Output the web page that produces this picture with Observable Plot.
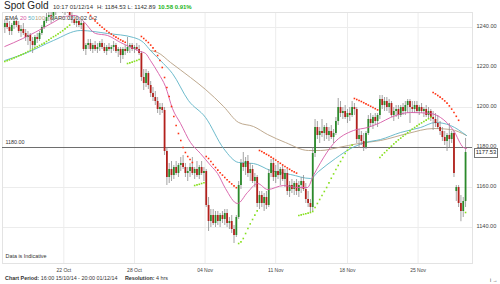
<!DOCTYPE html>
<html><head><meta charset="utf-8">
<script src="https://cdn.jsdelivr.net/npm/d3@7"></script>
<script src="https://cdn.jsdelivr.net/npm/@observablehq/plot@0.6"></script>
<style>
body{margin:0;background:#fff;font-family:"Liberation Sans",Arial,sans-serif;}
#wrap{position:relative;width:500px;height:284px;overflow:hidden;}
#wrap svg{position:absolute;left:0;top:0;}
.ov{position:absolute;white-space:nowrap;color:#222;}
</style></head><body>
<div id="wrap"></div>
<script>
// OHLC (4 hour bars, 15/10/14 16:00 - 01/12/14 20:00)
const O = [1240,1242,1240,1238,1241,1243,1241,1238,1239,1237,1235,1236,1233,1231,1235,1234,1237,1240,1243,1245,1246,1244,1248,1250,1251,1252,1249,1250,1248,1246,1244,1242,1243,1241,1242,1229,1231,1232,1229,1231,1229,1230,1232,1230,1228,1230,1229,1230,1231,1228,1229,1226,1229,1228,1230,1231,1229,1230,1229,1227,1215,1212,1217,1211,1207,1205,1203,1199,1200,1198.5,1178,1165,1169,1166,1170,1167,1171,1172,1170,1167,1168,1170,1167,1169,1166,1170,1167,1168,1151,1143,1146,1142,1146,1143,1146,1144,1147,1142,1143,1139,1136,1145,1161,1172,1170,1173,1167,1169,1163,1165,1152,1156,1152,1155,1151,1167,1172,1165,1168,1166,1169,1164,1167,1158,1161,1159,1162,1158,1161,1163,1159,1154,1152,1150,1177,1190,1186,1188,1187,1190,1186,1188,1185,1187,1193,1200,1197,1198,1195,1197,1196,1200,1199,1184,1186,1183,1180,1187,1194,1192,1195,1193,1196,1204,1201,1203,1200,1202,1196,1198,1199,1196,1200,1198,1201,1203,1200,1199,1201,1198,1200,1198,1199,1196,1198,1195,1194,1192,1190,1188,1185,1183,1186,1184,1187,1158,1160,1152,1148,1153];
const H = [1244,1245,1243,1242,1245,1246,1243,1241,1242,1239,1238,1237,1235,1236,1237,1238,1241,1244,1247,1248,1248,1250,1252,1254,1255,1254,1252,1253,1250,1248,1246,1245,1245,1244,1243,1232,1234,1234,1232,1233,1232,1233,1234,1232,1231,1232,1231,1233,1232,1230,1230,1230,1231,1235,1232,1232,1231,1232,1231,1228,1219,1219,1218,1213,1210,1208,1205,1202,1202,1200,1180,1172,1173,1171,1173,1172,1175,1176,1172,1170,1172,1175,1170,1173,1171,1173,1170,1169,1155,1149,1149,1148,1148,1147,1148,1149,1149,1145,1146,1141,1146,1163,1174,1177.5,1175,1176,1172,1171,1167,1166,1158,1158,1157,1158,1169,1174,1174,1171,1172,1170,1171,1169,1169,1163,1164,1163,1164,1163,1165,1166,1162,1158,1154,1180,1194,1193,1190,1194,1191,1192,1190,1191,1189,1195,1204.5,1203,1200,1201,1199,1200,1203,1202,1200,1189,1188,1187,1188,1196,1197,1196,1197,1197,1206,1206,1205,1205,1204,1203,1200,1201,1201,1201,1202,1203,1204,1204,1203,1203,1203,1201,1202,1200,1201,1200,1199,1198,1197,1196,1193,1190,1188,1187,1192,1188,1188,1161,1161,1156,1155,1184.53];
const L = [1237,1239,1236,1236,1239,1240,1237,1235,1236,1233,1231,1229,1227,1230,1232,1233,1236,1239,1242,1243,1242,1243,1246,1248,1249,1247,1246,1247,1244,1242,1241,1240,1240,1239,1228,1226,1229,1228,1227,1228,1227,1228,1229,1227,1226,1228,1227,1228,1227,1225,1222,1224,1226,1227,1227,1228,1227,1228,1226,1213,1208.5,1210,1209,1205,1203,1201,1197,1196,1197,1176,1161,1162,1163,1164,1166,1165,1168,1169,1165,1163,1165,1166,1164,1165,1164,1166,1163,1150,1138,1140,1141,1140,1141,1140,1142,1141,1140,1139,1137,1132,1135,1144,1159,1168,1166,1165,1163,1162,1160,1150,1149,1150,1148,1149,1150,1165,1163,1162,1164,1161,1163,1160,1156,1155,1157,1156,1156,1155,1157,1158,1152,1150,1147.5,1148,1175,1184,1182,1185,1183,1184,1183,1184,1182,1186,1191,1195,1194,1194,1192,1193,1195,1196,1182,1179.5,1181,1178,1179,1186,1190,1189,1191,1190,1194,1199,1198,1198,1197,1195,1193,1195,1194,1195,1196,1196,1197,1192,1197,1197,1197,1196,1197,1195,1195,1194,1193,1188.5,1190,1189,1186,1183,1181,1178,1180,1182,1165,1153,1150,1142.89,1145,1150];
const C = [1242,1240,1238,1241,1243,1241,1238,1239,1237,1235,1236,1233,1231,1235,1234,1237,1240,1243,1245,1246,1244,1248,1250,1251,1252,1249,1250,1248,1246,1244,1242,1243,1241,1242,1229,1231,1232,1229,1231,1229,1230,1232,1230,1228,1230,1229,1230,1231,1228,1229,1226,1229,1228,1230,1231,1229,1230,1229,1227,1215,1212,1217,1211,1207,1205,1203,1199,1200,1198.5,1178,1165,1169,1166,1170,1167,1171,1172,1170,1167,1168,1170,1167,1169,1166,1170,1167,1168,1151,1143,1146,1142,1146,1143,1146,1144,1147,1142,1143,1139,1136,1145,1161,1172,1170,1173,1167,1169,1163,1165,1152,1156,1152,1155,1151,1167,1172,1165,1168,1166,1169,1164,1167,1158,1161,1159,1162,1158,1161,1163,1159,1154,1152,1150,1177,1190,1186,1188,1187,1190,1186,1188,1185,1187,1193,1200,1197,1198,1195,1197,1196,1200,1199,1184,1186,1183,1180,1187,1194,1192,1195,1193,1196,1204,1201,1203,1200,1202,1196,1198,1199,1196,1200,1198,1201,1203,1200,1199,1201,1198,1200,1198,1199,1196,1198,1195,1194,1192,1190,1188,1185,1183,1186,1184,1187,1167,1160,1152,1148,1153,1177.53];

// EMA curves: [bar index, value]
const ema20 = [[0,1230.5],[7.6,1234.4],[13.3,1237.7],[19.7,1241.8],[26.2,1245.5],[30.5,1246],[33.6,1243.5],[39.2,1237],[44.4,1236],[50,1232.5],[55.6,1229.5],[58.6,1228],[60.8,1227],[62.9,1223.5],[66.4,1217],[69.4,1210.5],[72.4,1199.5],[75.9,1192],[80.2,1182.5],[84.5,1177],[88.9,1171],[91.9,1167],[95.3,1159.5],[100.5,1152],[104.8,1157.5],[109.2,1162],[113.5,1159],[120.4,1161],[126.4,1160],[130.7,1160],[133.3,1166],[136.4,1172.5],[142,1182],[150.6,1188.5],[156.7,1190],[162.3,1192.5],[166.6,1195],[175.2,1197.5],[183.9,1197],[188.2,1195],[193.8,1188.5],[198.1,1180],[199.4,1179.5]];
const ema50 = [[0,1223.5],[9.8,1227.5],[21,1233.5],[32.7,1238.5],[44.4,1237],[55.6,1235],[59.9,1232.5],[62.9,1228.5],[68.5,1222],[72.4,1217],[79.3,1203.5],[86.7,1195],[94.5,1179.5],[101,1172.5],[107.4,1172],[114.8,1168.5],[123.4,1166.5],[132,1164.5],[135.5,1168],[142.8,1174.5],[150.2,1180],[155.8,1182.5],[162.3,1184],[170.9,1187.5],[179.6,1190],[186,1192.5],[192.5,1191],[199.4,1186]];
const ema100 = [[62.9,1228.5],[66,1227.5],[71.6,1222.5],[80.2,1215],[86.7,1209],[94.5,1200.5],[101,1192.5],[107.4,1190.5],[113.5,1186.5],[121.2,1182.5],[131.2,1178.5],[136.4,1178.5],[144.1,1180],[152.8,1182],[162.3,1183.5],[174,1187],[185.2,1189.5],[192.5,1189],[199.4,1186]];

// Parabolic SAR segments: first bar index, side, values
const sarStart = [0,35,53,59,82,87,101,110,127,151,162,185,199];
const sarSide  = ["below","above","below","above","below","above","below","above","below","above","below","above","below"];
const sarVals  = [
 [1223,1223.4,1223.8,1224.3,1224.8,1225.3,1225.8,1226.3,1226.8,1227.4,1228,1228.6,1229.2,1229.8,1230.4,1231,1231.6,1232.2,1233,1233.8,1234.6,1235.4,1236,1236.8,1237.6,1238.4,1239.3,1240.2,1241.2],
 [1249,1247.5,1246,1244.6,1243.3,1242.2,1241.1,1240.1,1239.2,1238.3,1237.5,1236.7,1235.9,1235.2,1234.5,1233.8,1233.2,1232.6],
 [1222,1222.3,1222.7,1223.1,1223.5,1224],
 [1235.5,1234.5,1233.5,1232.5,1231.2,1229.8,1228.3,1226,1223.5,1220,1215,1210,1205.5,1200.5,1195.5,1191,1187,1183.5,1180,1177.5,1175.5,1174,1172.5],
 [1161,1161.3,1161.6,1162,1162.4],
 [1175.5,1174.5,1173,1171.5,1170,1168.7,1167.4,1166.2,1165,1163.9,1162.8,1161.8,1160.8,1159.9],
 [1132,1132.8,1134.5,1137,1139.5,1141.8,1144,1146.2,1148.3],
 [1178.5,1178,1177.3,1176.6,1176,1175.2,1174.5,1173.7,1172.9,1172.1,1171.3,1170.5,1169.8,1169.1,1168.4,1167.8,1167.2],
 [1146,1146.3,1146.6,1146.9,1147.2,1147.5,1148,1150,1152,1154,1156,1158,1160,1162.3,1164.6,1166.8,1169,1171,1173,1175,1177,1178.6,1180,1181.2],
 [1204.5,1204,1203.5,1203,1202.4,1201.8,1201.2,1200.6,1200,1199.4,1198.8],
 [1175,1176.2,1177.4,1178.5,1179.6,1180.7,1181.8,1182.8,1183.8,1184.7,1185.6,1186.5,1187.4,1188.3,1189.2,1190,1190.8,1191.6,1192.3,1193,1193.7,1194.4,1195.1],
 [1207.5,1206.8,1206,1205.2,1204.3,1203.3,1202.2,1200.8,1199.2,1197.5,1195.6,1193.6],
 [1147.5]
];

const yTicks = [1140,1160,1180,1200,1220,1240];
const xTickIdx = [25.5,56,86.5,117,148,178.5];
const xLabels = ["22 Oct","28 Oct","04 Nov","11 Nov","18 Nov","25 Nov"];
const refLevel = 1180;
const lastPrice = 1177.53;

const candles = C.map((c,i) => ({i, o:O[i], h:H[i], l:L[i], c}));
const sar = sarStart.flatMap((s,k) => sarVals[k].map((v,j) => ({i:s+j, v, side:sarSide[k]})));

const UP = "#2b8a2b", DOWN = "#b3201c";
const plot = Plot.plot({
  width: 500, height: 284,
  marginTop: 12, marginBottom: 21, marginLeft: 2, marginRight: 28,
  x: {domain: [-1, 202], axis: null},
  y: {domain: [1122, 1247.5], axis: null},
  color: {type: "identity"},
  style: {fontFamily: "Liberation Sans, Arial, sans-serif", background: "transparent"},
  marks: [
    Plot.ruleY(yTicks, {stroke: "#ececec", strokeWidth: 1}),
    Plot.ruleX(xTickIdx, {stroke: "#ececec", strokeWidth: 1}),
    Plot.frame({stroke: "#e3e3e3"}),
    Plot.ruleY([refLevel], {stroke: "#6e6e6e", strokeWidth: 1}),
    Plot.line(ema100, {x: d => d[0], y: d => d[1], stroke: "#b79f82", strokeWidth: 0.9, curve: "monotone-x", clip: true}),
    Plot.line(ema50, {x: d => d[0], y: d => d[1], stroke: "#5db3c6", strokeWidth: 0.9, curve: "monotone-x", clip: true}),
    Plot.ruleX(candles, {x: "i", y1: "l", y2: "h", stroke: "#8c8c8c", strokeWidth: 0.8, clip: true}),
    Plot.ruleX(candles, {x: "i", y1: "o", y2: "c", stroke: d => d.c >= d.o ? UP : DOWN, strokeWidth: 1.8, clip: true}),
    Plot.line(ema20, {x: d => d[0], y: d => d[1], stroke: "#d65aa6", strokeWidth: 0.9, curve: "monotone-x", clip: true}),
    Plot.dot(sar, {x: "i", y: "v", symbol: "square", r: 0.9, fill: d => d.side === "above" ? "#ff3010" : "#86df1e", stroke: "none", clip: true}),
    Plot.axisY(yTicks, {anchor: "right", tickSize: 0, tickPadding: 4, tickFormat: d => d.toFixed(2), fontSize: 5.6, fill: "#444", dy: -1}),
    Plot.axisX(xTickIdx, {anchor: "bottom", tickSize: 0, tickPadding: 5, tickFormat: d => xLabels[xTickIdx.indexOf(d)], fontSize: 5, fill: "#444"}),
    Plot.text([refLevel], {y: d => d, frameAnchor: "left", dx: 3, dy: -5, text: d => d.toFixed(2), textAnchor: "start", fontSize: 5.4, fill: "#333"}),
    Plot.text(["Data is Indicative"], {frameAnchor: "bottom-left", dx: 3, dy: -6, text: d => d, textAnchor: "start", fontSize: 5.4, fill: "#333"})
  ]
});
const wrap = document.getElementById("wrap");
wrap.appendChild(plot);

const yPx = plot.scale("y").apply(lastPrice);
const box = document.createElement("div");
box.className = "ov";
box.style.cssText = `left:474px;top:${yPx-3.6}px;width:22px;height:7.4px;line-height:7.4px;text-align:center;border:0.8px solid #777;font-size:5.8px;background:#fff;color:#222;`;
box.textContent = lastPrice.toFixed(2);
wrap.appendChild(box);

function addText(left, top, size, color, html, extra) {
  const el = document.createElement("div");
  el.className = "ov";
  el.style.cssText = `left:${left}px;top:${top}px;font-size:${size}px;line-height:${size+2}px;color:${color};${extra||""}`;
  el.innerHTML = html;
  wrap.appendChild(el);
}
// header
addText(4, 0, 10, "#222", "Spot Gold");
addText(53, 2.5, 6, "#333", "10:17 01/12/14");
addText(97, 2.5, 6, "#333", "H: 1184.53 L: 1142.89");
addText(158, 2.5, 6, "#22b422", "10.58 0.91%", "font-weight:bold;");
// legend inside plot
const halo = "text-shadow:0 0 1px #fff,0 0 1px #fff,0 0 1px #fff;";
addText(5, 14, 6, "#333", "EMA", halo);
addText(20, 14, 6, "#d65aa6", "20", halo);
addText(28, 14, 6, "#5db3c6", "50", halo);
addText(35, 14, 6, "#b79f82", "100", halo);
addText(50, 14, 6, "#333", "SAR", halo);
addText(62, 14, 6, "#333", "0.02 0.02 0.2", halo);
// footer
addText(5, 275, 5.4, "#333", '<b>Chart Period:</b> 16:00 15/10/14 - 20:00 01/12/14 <span style="margin-left:6px"><b>Resolution:</b> 4 hrs</span>');
</script>
</body></html>
